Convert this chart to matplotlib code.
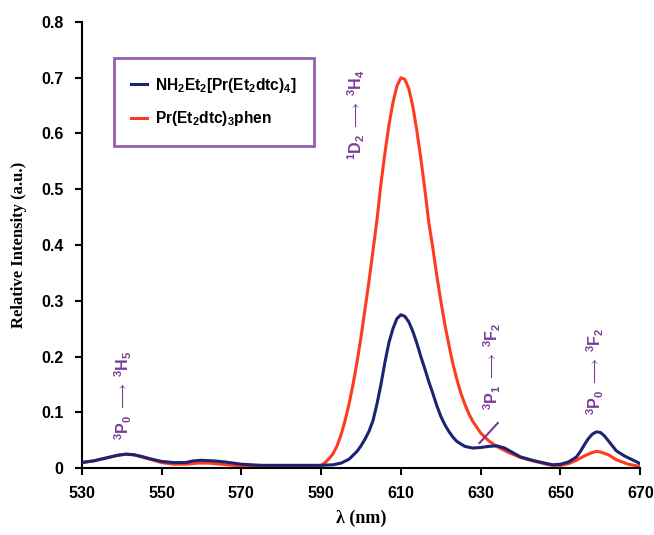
import matplotlib
matplotlib.use("Agg")
import matplotlib.pyplot as plt
import numpy as np

plt.rcParams['mathtext.fontset'] = 'custom'
plt.rcParams['mathtext.rm'] = 'Liberation Sans:bold'
plt.rcParams['mathtext.it'] = 'Liberation Sans:bold'
plt.rcParams['mathtext.bf'] = 'Liberation Sans:bold'
plt.rcParams['mathtext.default'] = 'rm'
plt.rcParams['mathtext.fallback'] = 'stixsans'

# Data
wl_blue = [530, 533, 536, 539, 541, 543, 545, 547, 550, 553, 556, 558, 560, 563, 566,
           570, 575, 580, 585, 590, 593, 595, 597, 599, 600, 601, 602, 603, 604, 605,
           606, 607, 608, 609, 610, 611, 612, 613, 614, 615, 616, 617, 618, 619, 620,
           621, 622, 623, 624, 626, 628, 630, 632, 634, 636, 638, 640, 643, 646, 648,
           650, 652, 654, 655, 656, 657, 658, 659, 660, 661, 662, 663, 664, 666, 668, 670]
int_blue = [0.010, 0.013, 0.018, 0.023, 0.025, 0.024, 0.021, 0.017, 0.012, 0.010, 0.010,
            0.013, 0.014, 0.013, 0.011, 0.007, 0.005, 0.005, 0.005, 0.005, 0.006, 0.009,
            0.016, 0.030, 0.040, 0.052, 0.066, 0.085, 0.115, 0.150, 0.190, 0.225, 0.250,
            0.268, 0.275, 0.272, 0.262, 0.245, 0.224, 0.200, 0.178, 0.155, 0.134, 0.112,
            0.093, 0.078, 0.066, 0.056, 0.048, 0.039, 0.036, 0.037, 0.039, 0.040, 0.036,
            0.028, 0.020, 0.014, 0.009, 0.006, 0.007, 0.011, 0.020, 0.030, 0.042, 0.053,
            0.061, 0.065, 0.064, 0.058, 0.049, 0.040, 0.031, 0.022, 0.015, 0.008]

wl_red = [530, 533, 536, 539, 541, 543, 545, 548, 550, 553, 556, 559, 562, 565, 568,
          572, 578, 584, 588, 590, 591, 592, 593, 594, 595, 596, 597, 598, 599, 600,
          601, 602, 603, 604, 605, 606, 607, 608, 609, 610, 611, 612, 613, 614, 615,
          616, 617, 618, 619, 620, 621, 622, 623, 624, 625, 626, 627, 628, 630, 632,
          634, 637, 640, 643, 646, 648, 650, 652, 654, 656, 658, 659, 660, 662, 664, 667, 670]
int_red = [0.010, 0.013, 0.018, 0.023, 0.025, 0.024, 0.020, 0.014, 0.010, 0.007, 0.007,
           0.009, 0.009, 0.007, 0.005, 0.003, 0.003, 0.003, 0.003, 0.005, 0.010, 0.017,
           0.026, 0.040, 0.060, 0.085, 0.115, 0.150, 0.190, 0.235, 0.285, 0.335, 0.390,
           0.445, 0.510, 0.565, 0.615, 0.655, 0.685, 0.700, 0.697, 0.680, 0.648, 0.605,
           0.555, 0.500, 0.440, 0.395, 0.345, 0.300, 0.258, 0.222, 0.188, 0.160, 0.135,
           0.115, 0.098, 0.084, 0.063, 0.049, 0.039, 0.028, 0.019, 0.013, 0.008, 0.005,
           0.005, 0.008, 0.014, 0.022, 0.028, 0.030, 0.029, 0.024, 0.015, 0.007, 0.003]

labels = ['NH$_2$Et$_2$[Pr(Et$_2$dtc)$_4$]', 'Pr(Et$_2$dtc)$_3$phen']
xticks = [530, 550, 570, 590, 610, 630, 650, 670]
yticks = [0, 0.1, 0.2, 0.3, 0.4, 0.5, 0.6, 0.7, 0.8]

navy = '#1c2371'
red = '#ff3b1f'
purple = '#7a3a96'

fig = plt.figure(figsize=(6.54, 5.35), dpi=100)
ax = fig.add_axes([0.125, 0.125, 0.854, 0.834])

ax.plot(wl_red, int_red, color=red, lw=2.2, label=labels[1], zorder=2)
ax.plot(wl_blue, int_blue, color=navy, lw=2.2, label=labels[0], zorder=3)

ax.set_xlim(530, 670)
ax.set_ylim(0, 0.8)
ax.set_xticks(xticks)
ax.set_yticks(yticks)
ax.set_xticklabels([str(t) for t in xticks])
ax.set_yticklabels(['0' if t == 0 else f'{t:.1f}' for t in yticks])
for s in ['top', 'right']:
    ax.spines[s].set_visible(False)
for s in ['left', 'bottom']:
    ax.spines[s].set_linewidth(1.5)
ax.tick_params(direction='out', length=5, width=1.5, labelsize=11.5, pad=8)
for lab in ax.get_xticklabels() + ax.get_yticklabels():
    lab.set_fontfamily('Liberation Sans')
    lab.set_fontweight('bold')

ax.set_xlabel('λ (nm)', fontfamily='Liberation Serif', fontweight='bold', fontsize=13, labelpad=6)
ax.set_ylabel('Relative Intensity (a.u.)', fontfamily='Liberation Serif', fontweight='bold',
              fontsize=12, labelpad=10)

h, l = ax.get_legend_handles_labels()
leg = ax.legend(h[::-1], l[::-1], loc='upper left', bbox_to_anchor=(0.057, 0.92),
                prop={'family': 'Liberation Sans', 'weight': 'bold', 'size': 11.2},
                frameon=True, fancybox=False, handlelength=1.0, handletextpad=0.5,
                borderpad=1.15, labelspacing=0.95, borderaxespad=0)
leg.get_frame().set_edgecolor(purple)
leg.get_frame().set_linewidth(2)

tkw = dict(color=purple, rotation=90, fontsize=11.5, fontfamily='Liberation Sans',
           fontweight='bold', ha='center', va='bottom')
arrow = '$\\;\\longrightarrow\\;$'
ax.text(540.3, 0.05, '$^3$P$_0$' + arrow + '$^3$H$_5$', **tkw)
ax.text(598.9, 0.552, '$^1$D$_2$' + arrow + '$^3$H$_4$', **tkw)
ax.text(633, 0.104, '$^3$P$_1$' + arrow + '$^3$F$_2$', **tkw)
ax.text(658.8, 0.095, '$^3$P$_0$' + arrow + '$^3$F$_2$', **tkw)
ax.plot([629.7, 634.3], [0.045, 0.081], color=purple, lw=1.5, zorder=4)

fig.savefig('out.png', dpi=100)
